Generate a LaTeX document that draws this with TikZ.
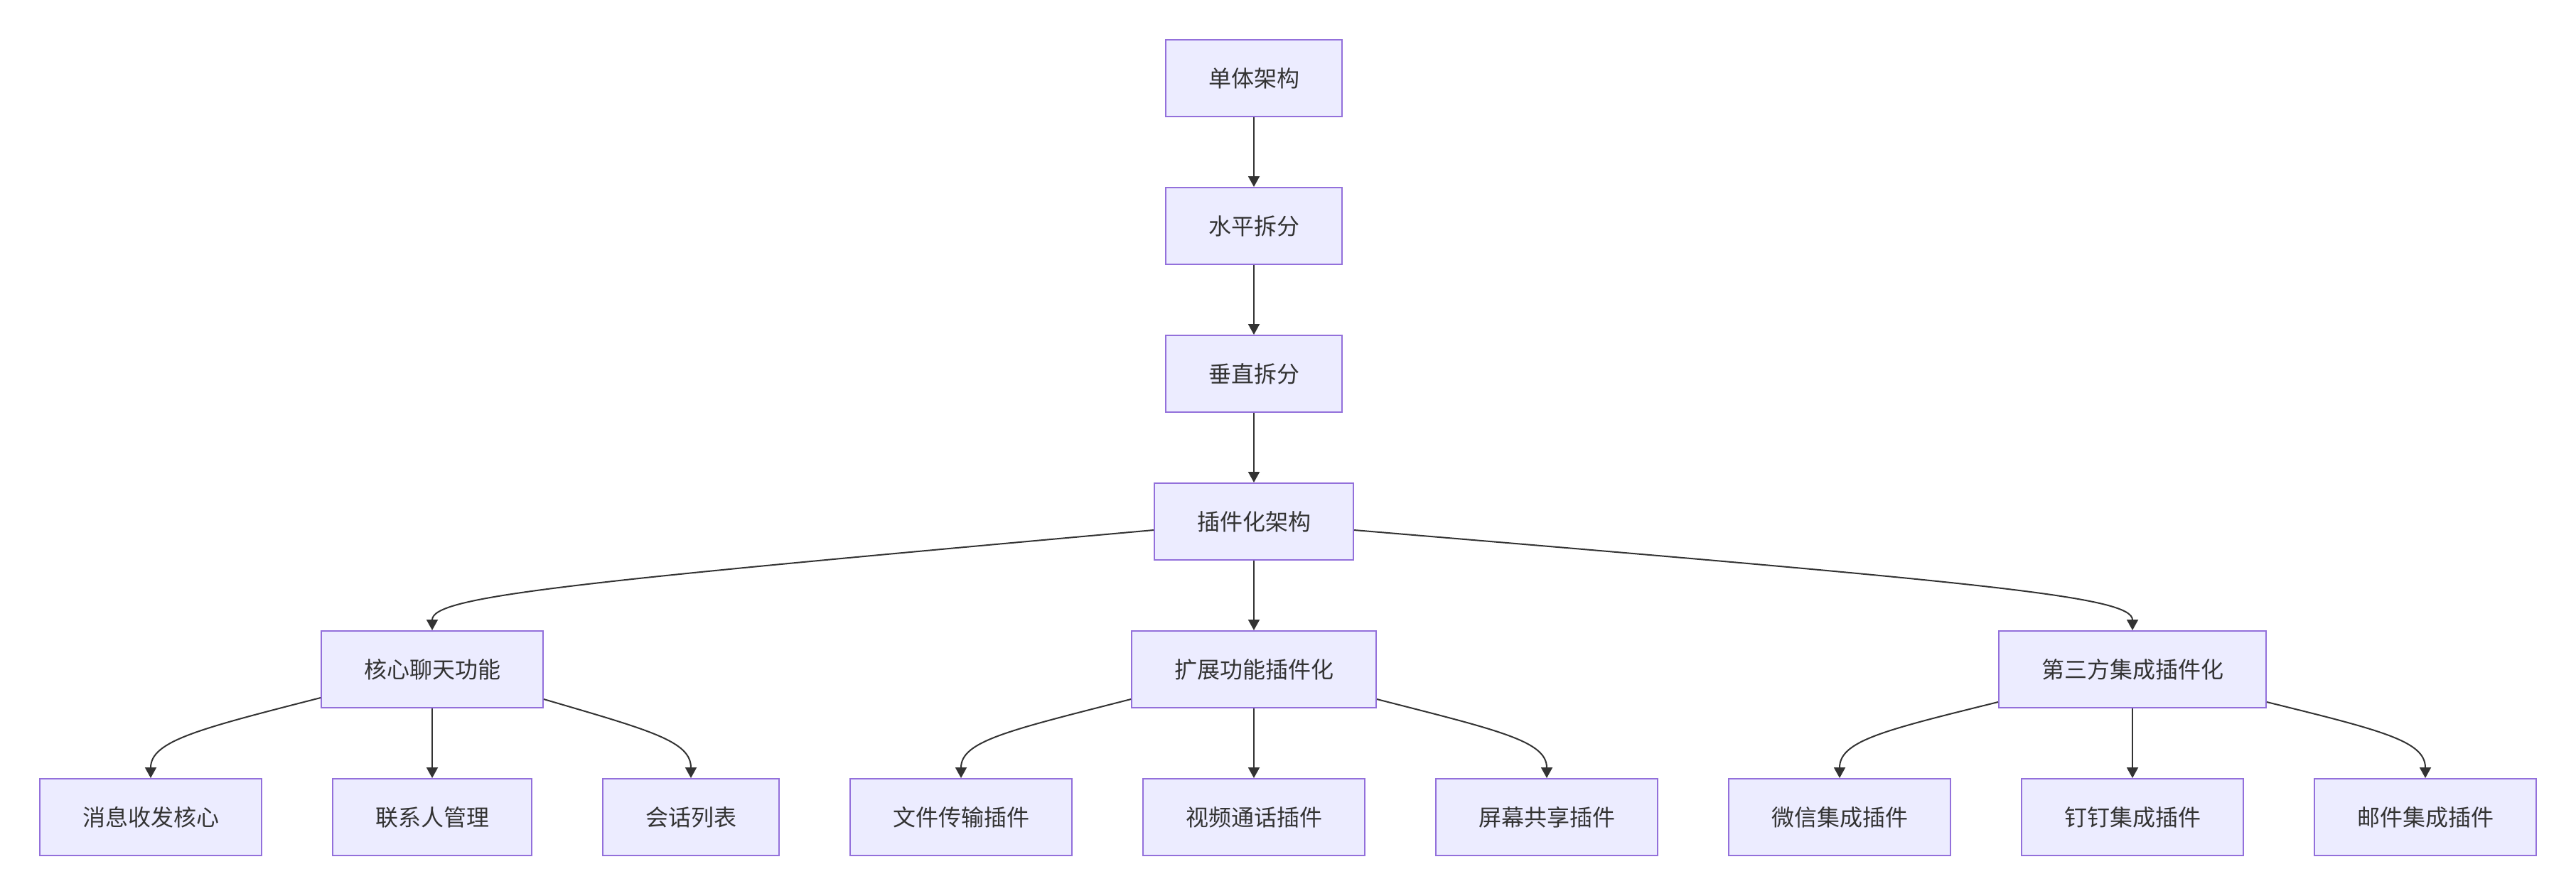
\documentclass[tikz,border=0pt]{standalone}
\usepackage{fontspec}
\setmainfont{Noto Sans CJK SC}
\usepackage{xcolor}
\usepackage{tikz}
\usetikzlibrary{arrows.meta, positioning}

\definecolor{boxfill}{HTML}{ECECFF}
\definecolor{boxline}{HTML}{9370DB}
\definecolor{linegray}{HTML}{333333}

\tikzset{
  box/.style={draw=boxline, fill=boxfill, rectangle, line width=1pt,
    minimum height=54pt, inner xsep=30pt, inner ysep=0pt, text=linegray,
    font=\fontsize{16pt}{20pt}\selectfont},
  link/.style={-{Triangle[length=7.5pt,width=8pt]}, draw=linegray, line width=1pt}
}

\begin{document}
\begin{tikzpicture}[x=1pt, y=1pt]
\useasboundingbox (0,0) rectangle (1812,-630);

% 主干节点
\node[box] (mono) at (882,-55) {单体架构};
\node[box] (horiz) at (882,-159) {水平拆分};
\node[box] (vert) at (882,-263) {垂直拆分};
\node[box] (plugin) at (882,-367) {插件化架构};

% 第二层
\node[box] (core) at (304,-471) {核心聊天功能};
\node[box] (ext) at (882,-471) {扩展功能插件化};
\node[box] (third) at (1500,-471) {第三方集成插件化};

% 叶子节点
\node[box] (msg) at (106,-575) {消息收发核心};
\node[box] (contact) at (304,-575) {联系人管理};
\node[box] (session) at (486,-575) {会话列表};
\node[box] (file) at (676,-575) {文件传输插件};
\node[box] (video) at (882,-575) {视频通话插件};
\node[box] (screen) at (1088,-575) {屏幕共享插件};
\node[box] (wechat) at (1294,-575) {微信集成插件};
\node[box] (ding) at (1500,-575) {钉钉集成插件};
\node[box] (mail) at (1706,-575) {邮件集成插件};

% 连线
\draw[link] (mono) -- (horiz);
\draw[link] (horiz) -- (vert);
\draw[link] (vert) -- (plugin);
\draw[link] ([yshift=-6pt]plugin.west) .. controls +(-412,-37) and +(0,24) .. (core.north);
\draw[link] (plugin) -- (ext);
\draw[link] ([yshift=-6pt]plugin.east) .. controls +(444,-37) and +(0,24) .. (third.north);

\draw[link] ([yshift=-20pt]core.west) .. controls +(-86,-22) and +(0,26) .. (msg.north);
\draw[link] (core) -- (contact);
\draw[link] ([yshift=-21pt]core.east) .. controls +(75,-22) and +(0,26) .. (session.north);

\draw[link] ([yshift=-21pt]ext.west) .. controls +(-86,-22) and +(0,26) .. (file.north);
\draw[link] (ext) -- (video);
\draw[link] ([yshift=-21pt]ext.east) .. controls +(86,-22) and +(0,26) .. (screen.north);

\draw[link] ([yshift=-23pt]third.west) .. controls +(-81,-20) and +(0,26) .. (wechat.north);
\draw[link] (third) -- (ding);
\draw[link] ([yshift=-23pt]third.east) .. controls +(81,-20) and +(0,26) .. (mail.north);
\end{tikzpicture}
\end{document}
